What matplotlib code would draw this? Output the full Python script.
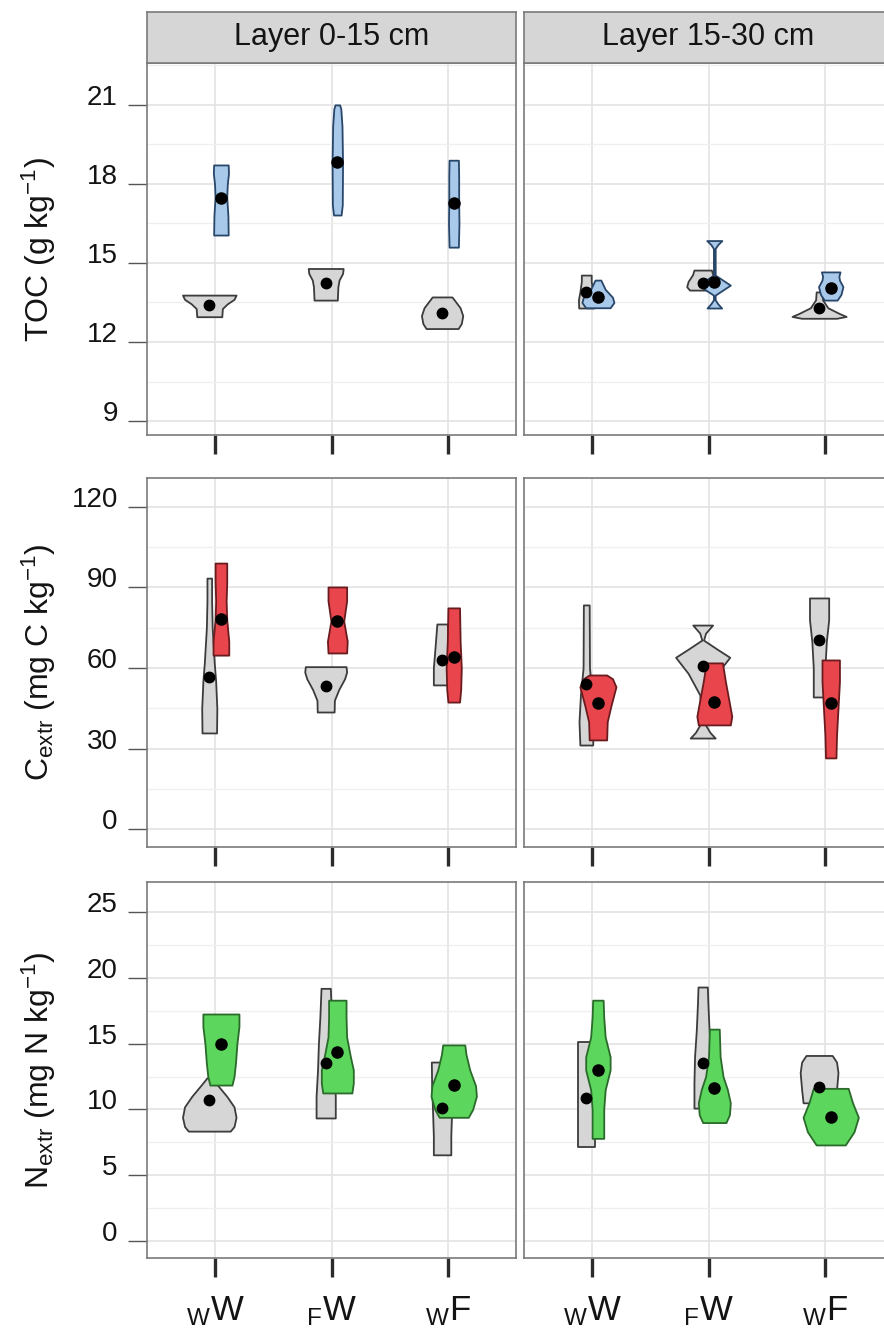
import numpy as np
import matplotlib
matplotlib.use("Agg")
import matplotlib.pyplot as plt
from matplotlib.ticker import MultipleLocator

plt.rcParams["font.family"] = ["Liberation Sans", "DejaVu Sans"]
plt.rcParams["mathtext.fontset"] = "custom"
plt.rcParams["mathtext.rm"] = "Liberation Sans"
plt.rcParams["mathtext.it"] = "Liberation Sans:italic"
plt.rcParams["mathtext.bf"] = "Liberation Sans:bold"

# ---------------------------------------------------------------- data
categories = ["wW", "FW", "wF"]
tick_labels = [r"${}_{\mathrm{W}}\mathrm{W}$",
               r"${}_{\mathrm{F}}\mathrm{W}$",
               r"${}_{\mathrm{W}}\mathrm{F}$"]
layers = ["Layer 0-15 cm", "Layer 15-30 cm"]
y_titles = [r"TOC (g kg$^{\mathrm{-1}}$)",
            r"C$_{\mathrm{extr}}$ (mg C kg$^{\mathrm{-1}}$)",
            r"N$_{\mathrm{extr}}$ (mg N kg$^{\mathrm{-1}}$)"]
y_ticks = [[9, 12, 15, 18, 21], [0, 30, 60, 90, 120], [0, 5, 10, 15, 20, 25]]
y_limits = [(8.47, 22.59), (-6.7, 130.8), (-1.29, 27.28)]

# Violin outlines: (value, relative density) pairs per category wW, FW, wF.
# "ref" = grey series, "trt" = coloured series.
TOC_L1_REF = [
    [(12.96, 0.43), (13.27, 0.45), (13.45, 0.62), (13.62, 0.85), (13.78, 0.92)],
    [(13.59, 0.40), (14.10, 0.42), (14.35, 0.46), (14.60, 0.58), (14.79, 0.60)],
    [(12.51, 0.55), (12.70, 0.66), (13.00, 0.71), (13.30, 0.62), (13.55, 0.45), (13.71, 0.34)],
]
TOC_L1_TRT = [
    [(16.06, 0.25), (16.80, 0.24), (17.50, 0.20), (18.00, 0.22), (18.40, 0.26), (18.72, 0.25)],
    [(16.82, 0.13), (17.20, 0.17), (18.80, 0.18), (20.20, 0.16), (20.85, 0.12), (21.00, 0.08)],
    [(15.60, 0.16), (16.50, 0.18), (17.30, 0.17), (18.30, 0.17), (18.90, 0.16)],
]
TOC_L2_REF = [
    [(13.29, 0.26), (13.60, 0.27), (13.90, 0.22), (14.30, 0.17), (14.54, 0.17)],
    [(13.97, 0.45), (14.10, 0.55), (14.30, 0.50), (14.55, 0.35), (14.73, 0.30)],
    [(12.90, 0.60), (12.97, 0.93), (13.08, 0.70), (13.30, 0.30), (13.60, 0.12), (13.90, 0.10)],
]
TOC_L2_TRT = [
    [(13.30, 0.42), (13.50, 0.55), (13.70, 0.50), (14.00, 0.25), (14.35, 0.10)],
    [(13.29, 0.25), (13.45, 0.12), (13.60, 0.03), (13.78, 0.03), (14.16, 0.55),
     (14.54, 0.03), (15.55, 0.03), (15.70, 0.12), (15.85, 0.26)],
    [(13.59, 0.22), (13.80, 0.35), (14.10, 0.42), (14.35, 0.30), (14.50, 0.28), (14.66, 0.32)],
]
C_L1_REF = [
    [(35.8, 0.25), (45.0, 0.26), (55.0, 0.22), (62.0, 0.17), (75.0, 0.10), (85.0, 0.08), (93.5, 0.08)],
    [(43.6, 0.29), (48.0, 0.30), (52.0, 0.45), (56.0, 0.65), (58.5, 0.72), (60.5, 0.70)],
    [(53.7, 0.30), (60.0, 0.30), (68.0, 0.24), (76.4, 0.18)],
]
C_L1_TRT = [
    [(64.8, 0.27), (70.0, 0.27), (78.0, 0.20), (85.0, 0.18), (92.0, 0.20), (99.1, 0.20)],
    [(65.6, 0.32), (70.0, 0.34), (77.5, 0.22), (85.0, 0.32), (90.2, 0.32)],
    [(47.3, 0.20), (52.0, 0.24), (60.0, 0.26), (70.0, 0.22), (82.4, 0.20)],
]
C_L2_REF = [
    [(31.3, 0.22), (40.0, 0.25), (50.0, 0.20), (60.0, 0.11), (83.5, 0.10)],
    [(33.9, 0.43), (36.0, 0.25), (40.0, 0.03), (50.0, 0.10), (58.0, 0.50), (64.0, 0.93),
     (67.0, 0.50), (70.4, 0.03), (73.0, 0.10), (76.0, 0.34)],
    [(49.2, 0.20), (60.0, 0.20), (70.0, 0.25), (78.0, 0.33), (86.1, 0.33)],
]
C_L2_TRT = [
    [(33.2, 0.30), (40.0, 0.32), (46.0, 0.45), (53.0, 0.62), (56.0, 0.50), (57.4, 0.30)],
    [(38.8, 0.55), (42.0, 0.60), (48.0, 0.50), (55.0, 0.38), (61.9, 0.28)],
    [(26.5, 0.18), (35.0, 0.20), (45.0, 0.25), (55.0, 0.30), (63.0, 0.30)],
]
N_L1_REF = [
    [(8.35, 0.72), (8.70, 0.85), (9.40, 0.92), (10.20, 0.85), (11.00, 0.60), (11.80, 0.30), (12.40, 0.08)],
    [(9.35, 0.33), (11.00, 0.33), (13.00, 0.28), (15.00, 0.25), (17.00, 0.20), (19.20, 0.16)],
    [(6.55, 0.30), (8.00, 0.30), (10.00, 0.33), (12.00, 0.36), (13.60, 0.37)],
]
N_L1_TRT = [
    [(11.85, 0.38), (12.50, 0.45), (13.50, 0.50), (15.00, 0.55), (16.30, 0.62), (17.25, 0.62)],
    [(11.25, 0.50), (12.00, 0.55), (13.00, 0.55), (14.00, 0.45), (15.50, 0.32), (17.00, 0.30), (18.30, 0.30)],
    [(9.40, 0.50), (10.00, 0.65), (11.00, 0.78), (11.80, 0.75), (13.00, 0.55), (14.20, 0.42), (14.90, 0.38)],
]
N_L2_REF = [
    [(7.14, 0.30), (9.00, 0.30), (12.00, 0.30), (15.10, 0.30)],
    [(10.10, 0.30), (12.00, 0.30), (14.00, 0.28), (16.00, 0.22), (18.00, 0.18), (19.30, 0.16)],
    [(10.50, 0.55), (11.50, 0.60), (12.80, 0.65), (13.60, 0.60), (14.10, 0.45)],
]
N_L2_TRT = [
    [(7.80, 0.20), (10.00, 0.20), (11.50, 0.25), (13.00, 0.42), (14.00, 0.42),
     (15.50, 0.25), (17.00, 0.20), (18.30, 0.18)],
    [(9.00, 0.40), (9.60, 0.52), (10.50, 0.55), (11.50, 0.45), (12.50, 0.30), (14.00, 0.20), (16.10, 0.17)],
    [(7.30, 0.50), (8.30, 0.80), (9.40, 0.95), (10.50, 0.75), (11.60, 0.60)],
]

# Means shown as black points
TOC_L1_REF_MEAN = [13.4, 14.23, 13.1]
TOC_L1_TRT_MEAN = [17.47, 18.83, 17.28]
TOC_L2_REF_MEAN = [13.9, 14.24, 13.29]
TOC_L2_TRT_MEAN = [13.7, 14.28, 14.05]
C_L1_REF_MEAN = [56.6, 53.3, 63.0]
C_L1_TRT_MEAN = [78.3, 77.5, 64.0]
C_L2_REF_MEAN = [54.0, 60.7, 70.4]
C_L2_TRT_MEAN = [47.0, 47.3, 47.0]
N_L1_REF_MEAN = [10.7, 13.5, 10.1]
N_L1_TRT_MEAN = [14.97, 14.4, 11.85]
N_L2_REF_MEAN = [10.9, 13.5, 11.7]
N_L2_TRT_MEAN = [13.0, 11.6, 9.4]

panels = [
    [(TOC_L1_REF, TOC_L1_REF_MEAN, TOC_L1_TRT, TOC_L1_TRT_MEAN),
     (TOC_L2_REF, TOC_L2_REF_MEAN, TOC_L2_TRT, TOC_L2_TRT_MEAN)],
    [(C_L1_REF, C_L1_REF_MEAN, C_L1_TRT, C_L1_TRT_MEAN),
     (C_L2_REF, C_L2_REF_MEAN, C_L2_TRT, C_L2_TRT_MEAN)],
    [(N_L1_REF, N_L1_REF_MEAN, N_L1_TRT, N_L1_TRT_MEAN),
     (N_L2_REF, N_L2_REF_MEAN, N_L2_TRT, N_L2_TRT_MEAN)],
]

# ---------------------------------------------------------------- style
REF_FILL, REF_EDGE = "#d6d6d6", "#3c3c3c"
TRT_COLOURS = [("#a9c9ea", "#27466a"), ("#e8454d", "#6a1b1e"), ("#5cd65c", "#2a6a2a")]
MAX_HALF_WIDTH = 0.25
DODGE = 0.05
TEXT = "#141414"

W, H = 884, 1339
fig = plt.figure(figsize=(W / 100, H / 100), dpi=100)

col_px = [(147, 516), (524, 893)]
row_px = [(63, 435), (478, 847), (882, 1258)]
strip_px = (12, 63)


def px_box(x0, x1, y0, y1):
    return [x0 / W, 1 - y1 / H, (x1 - x0) / W, (y1 - y0) / H]


def draw_violin(ax, x, prof, fc, ec):
    lv = np.array([p[0] for p in prof])
    hw = np.array([p[1] for p in prof]) * MAX_HALF_WIDTH
    ax.fill_betweenx(lv, x - hw, x + hw, facecolor=fc, edgecolor=ec,
                     linewidth=1.3, zorder=3)


xpos = np.arange(1, len(categories) + 1)

for r in range(3):
    for c in range(2):
        x0, x1 = col_px[c]
        y0, y1 = row_px[r]
        ax = fig.add_axes(px_box(x0, x1, y0, y1))
        ref, ref_mean, trt, trt_mean = panels[r][c]
        tfill, tedge = TRT_COLOURS[r]
        for i, xc in enumerate(xpos):
            draw_violin(ax, xc - DODGE, ref[i], REF_FILL, REF_EDGE)
        for i, xc in enumerate(xpos):
            draw_violin(ax, xc + DODGE, trt[i], tfill, tedge)
        ax.plot(xpos - DODGE, ref_mean, "o", color="black", ms=7.5, zorder=5)
        ax.plot(xpos + DODGE, trt_mean, "o", color="black", ms=8, zorder=5)

        ax.set_xlim(0.415, 3.585)
        ax.set_ylim(*y_limits[r])
        step = y_ticks[r][1] - y_ticks[r][0]
        ax.yaxis.set_minor_locator(MultipleLocator(step / 2))
        ax.set_axisbelow(True)
        ax.grid(True, which="major", color="#e3e3e3", linewidth=1.2)
        ax.grid(True, which="minor", axis="y", color="#efefef", linewidth=0.9)
        for s in ax.spines.values():
            s.set_color("#7a7a7a")
            s.set_linewidth(1.2)

        if r == 2:
            ax.set_xticks(xpos, labels=tick_labels)
        else:
            ax.set_xticks(xpos, labels=[""] * len(xpos))
        ax.tick_params(axis="x", length=14, width=2.4, color="#2b2b2b",
                       labelsize=25, pad=12, labelcolor=TEXT)
        if c == 0:
            ax.set_yticks(y_ticks[r], labels=[str(v) for v in y_ticks[r]],
                          va="baseline")
            ax.tick_params(axis="y", length=14, width=1.0, color="#555555",
                           labelsize=20, pad=7, labelcolor=TEXT)
        else:
            ax.set_yticks(y_ticks[r], labels=[""] * len(y_ticks[r]))
            ax.tick_params(axis="y", length=0)
        ax.tick_params(which="minor", length=0)

        if r == 0:
            sax = fig.add_axes(px_box(x0, x1, strip_px[0], strip_px[1]))
            sax.set_facecolor("#d6d6d6")
            sax.set_xticks([])
            sax.set_yticks([])
            for s in sax.spines.values():
                s.set_color("#7a7a7a")
                s.set_linewidth(1.2)
            sax.text(0.5, 0.5, layers[c], ha="center", va="center",
                     fontsize=22, color=TEXT, transform=sax.transAxes)

    yc = (row_px[r][0] + row_px[r][1]) / 2
    fig.text(39 / W, 1 - yc / H, y_titles[r], rotation=90, ha="center",
             va="center", fontsize=23, color=TEXT)

fig.savefig("out.png", dpi=100)
